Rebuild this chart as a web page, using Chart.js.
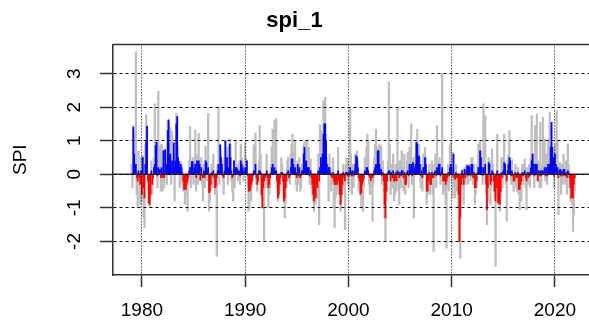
<!DOCTYPE html>
<html>
<head>
<meta charset="utf-8">
<title>spi_1</title>
<script src="https://cdn.jsdelivr.net/npm/chart.js@4.4.1/dist/chart.umd.min.js"></script>
<style>
    body { margin: 0; background: #fff; }
    canvas { display: block; }
</style>
</head>
<body>
<canvas id="spiChart" width="589" height="322"></canvas>
<script>
// Monthly series, Jan 1979 .. Dec 2021 (one row per year)
const startYear = 1979;

// gray spikes: SPI-1
const spiGray = [
    0.3, -0.4, 1.45, 1.2, 0.4, 3.65, -0.6, -1.0, 0.7, -0.3, -0.9, 0.5,
    -0.8, 0.55, -1.3, -1.6, 0.9, 1.78, 1.45, -0.5, -0.9, -1.0, -0.7, 0.4,
    -0.6, -0.3, 0.5, 2.1, 0.9, 1.0, -0.4, 2.47, 0.3, 0.85, -0.5, 0.9,
    -0.5, 0.7, -0.4, 0.75, 0.55, -0.3, 1.6, 1.55, 0.9, 1.4, -0.3, 1.28,
    0.4, 0.95, -0.8, 0.5, 1.82, 1.7, 0.8, 0.35, -0.4, 0.38, 0.3, -0.3,
    -0.5, -0.45, -0.9, -0.6, -0.45, -1.1, -0.3, 0.4, 1.42, -0.4, 0.38, 0.5,
    -0.3, 0.4, 1.32, -0.5, 0.6, -0.3, 1.22, 0.4, -0.2, 0.5, -0.3, -0.8,
    0.3, -0.4, 0.85, 0.4, -0.2, 1.82, -1.1, -0.8, -0.5, 0.3, -0.4, 0.6,
    -0.3, -0.6, -0.4, -2.45, 0.3, 2.0, -0.3, 0.88, 0.7, 0.4, -0.2, -0.6,
    0.5, 1.0, 0.4, 0.8, -0.3, 0.6, 1.05, 0.9, -0.2, -0.5, -0.8, 0.4,
    -0.4, 1.03, 0.3, 0.2, -0.2, 0.4, -0.3, 0.9, 0.5, 0.4, -0.2, 0.3,
    0.97, 0.5, 0.4, -0.3, -1.1, -1.0, -0.6, -0.8, -0.4, -0.2, 0.88, 0.3,
    1.23, -0.3, -0.5, -0.3, 0.4, 1.45, 0.6, -0.7, -1.0, -0.5, -2.0, -0.4,
    -0.3, 0.6, -0.4, -1.0, -0.6, -0.4, 0.3, 0.8, 1.35, 0.5, 1.6, 0.4,
    1.65, -0.4, -0.8, -0.7, -0.5, -0.3, 0.5, 0.3, -0.5, -0.8, -1.3, -0.9,
    -0.4, 0.4, 0.5, -0.2, -0.3, 0.6, 0.9, 1.2, 0.7, 0.3, 1.0, -0.3,
    -0.5, 0.4, -0.3, 0.5, -0.5, -0.4, 0.3, 0.2, 0.9, 1.0, 0.6, 0.8,
    1.03, 0.3, 0.8, -0.3, 0.45, -0.4, -0.6, -0.8, -1.1, -0.6, -0.9, -0.5,
    -0.7, 0.6, -1.5, 1.48, 1.3, 0.4, 1.0, 2.2, 1.6, 2.3, 1.2, 0.5,
    0.3, -0.8, 0.6, 0.2, -0.5, -0.3, 0.5, -1.0, -1.6, -0.7, -0.4, -0.6,
    0.8, -0.4, -0.9, -1.1, -0.8, -0.6, 0.3, -0.4, -1.65, 0.3, 0.5, -0.3,
    0.4, -0.5, 1.95, 0.6, -0.6, 0.3, -0.4, 0.2, 0.6, 0.55, 0.7, 0.4,
    -0.5, -0.3, -0.6, -1.0, -0.5, -1.1, -0.4, 0.5, 0.3, 0.8, 1.2, 1.0,
    -0.3, -0.6, -0.2, -0.4, -1.4, -0.3, 0.5, 0.9, 1.35, 0.4, 0.8, 0.7,
    0.9, 0.3, 0.85, -0.3, 0.4, -0.5, -1.3, -2.0, -0.8, -0.5, 0.4, 2.75,
    0.9, -0.6, 0.3, -0.4, 0.6, -0.8, -0.6, 0.3, -0.5, 2.0, 0.4, -0.9,
    0.4, -0.4, 0.7, 0.2, -0.5, 0.6, -0.6, -0.3, 0.4, 0.65, -0.4, 0.8,
    0.3, 1.5, -0.3, 0.5, -1.3, 0.4, 0.6, 1.0, 1.35, 0.7, 0.9, 0.5,
    -0.4, 0.3, -0.5, 0.6, 0.3, 0.8, 0.5, -0.9, -0.6, -0.5, 0.3, -0.6,
    -0.3, 0.4, -0.6, -2.3, 0.3, 0.6, -0.4, 1.45, 0.3, 0.4, 0.5, -0.3,
    0.3, 3.0, -0.6, -0.3, -0.5, -0.9, -2.2, -0.4, 0.3, -0.5, 0.85, 0.95,
    0.4, -0.7, 0.65, -0.4, -0.7, 0.3, -0.5, -0.3, -1.0, -2.0, -2.5, -0.8,
    0.15, -0.4, -0.9, 0.2, -0.3, 0.3, 0.25, -0.3, 0.3, 0.2, -0.2, 0.5,
    0.5, -0.3, 0.3, -0.9, -0.6, -0.4, 0.3, 0.9, 0.4, 1.0, 0.7, 0.5,
    -0.3, 2.1, 0.4, 1.75, -0.6, -1.5, -0.8, 0.5, 0.4, -0.9, -0.4, 0.75,
    0.3, -0.5, -0.7, -2.75, -0.6, 1.2, -0.9, -0.5, -1.1, -0.7, 0.5, -0.4,
    0.5, 1.2, 0.35, -0.3, -1.4, 0.4, 0.6, 1.3, 0.5, -0.3, 0.45, -0.3,
    -0.5, -0.2, 0.3, -0.4, -0.5, 0.2, -0.6, -1.05, -0.5, -0.8, 0.3, -0.3,
    0.3, 0.45, -0.4, -1.05, 0.2, -0.3, 0.3, -0.4, 0.5, 1.75, 0.6, 0.6,
    -0.4, 1.45, 0.5, 1.8, -0.2, 0.4, -0.4, 1.55, -0.4, 0.3, 1.7, 0.5,
    1.05, -0.2, 0.6, -0.3, 1.05, 0.4, 1.85, 1.0, 1.55, 0.8, 0.5, -0.4,
    0.9, 0.4, 1.9, 1.0, -1.2, 0.3, 0.35, -0.6, 0.3, -0.3, 0.6, 0.15,
    -0.3, 0.4, -0.6, 0.9, 0.3, -0.4, -0.8, -0.7, -0.9, -1.7, -1.2, -0.5
];

// blue / red bars
const spiColor = [
    0, 0, 1.4, 0.6, 0.2, 0.3, -0.1, -0.2, 0.1, -0.1, -0.3, 0.1,
    -0.6, 0.5, -0.4, -0.7, 0.3, 1.0, 1.43, -0.2, -0.85, -0.9, -0.6, 0.1,
    -0.3, -0.1, 0.2, 0.3, 0.85, 0.95, -0.05, 0.2, 0.1, 0.15, -0.1, 0.2,
    -0.1, 0.7, -0.1, 0.73, 0.3, 0.1, 1.3, 1.62, 0.5, 0.6, 0.1, 0.4,
    0.2, 0.93, 0.2, 0.4, 1.5, 1.72, 0.5, 0.38, 0.1, 0.3, 0.2, 0.05,
    -0.2, -0.45, -0.4, -0.45, -0.3, -0.2, -0.1, 0.1, 0.2, 0.1, 0.38, 0.38,
    0.05, 0.2, 0.3, -0.1, 0.4, 0.1, 0.4, 0.3, -0.17, 0.2, -0.05, -0.1,
    0.1, -0.1, 0.4, 0.35, 0.1, 0.2, -0.55, -0.5, -0.3, 0.05, -0.05, 0.1,
    -0.1, -0.4, -0.35, -0.1, 0.1, 0.3, 0.1, 0.88, 0.5, 0.3, -0.05, -0.1,
    0.1, 1.0, 0.2, 0.5, 0.05, 0.2, 0.9, 0.5, 0.1, -0.1, -0.05, 0.4,
    0.1, 0.2, 0.2, 0.15, 0.05, 0.1, -0.05, 0.4, 0.3, 0.2, 0.05, 0.1,
    0.2, 0.1, 0.4, -0.05, -0.5, -0.5, -0.45, -0.3, -0.2, -0.05, 0.1, 0.05,
    0.3, -0.1, -0.3, -0.2, 0.1, 0.1, 0.05, -0.6, -1.0, -0.4, -0.2, -0.1,
    -0.05, 0.1, -0.1, -0.4, -0.3, -0.1, 0.05, 0.2, 0.3, 0.1, 0.2, 0.1,
    0.1, -0.2, -0.7, -0.6, -0.3, -0.1, 0.05, 0.05, -0.2, -0.8, -0.7, -0.4,
    -0.2, 0.05, 0.1, -0.1, -0.05, 0.2, 0.45, 0.45, 0.3, 0.1, 0.2, 0.05,
    -0.1, 0.3, -0.05, 0.2, -0.1, -0.05, 0.1, 0.1, 0.6, 0.8, 0.3, 0.4,
    0.2, 0.2, 0.2, -0.05, 0.1, -0.1, -0.3, -0.6, -0.8, -0.5, -0.7, -0.3,
    -0.4, 0.1, -0.2, 0.2, 0.5, 0.3, 0.6, 1.2, 1.5, 1.5, 1.0, 0.3,
    0.1, 0.2, 0.2, 0.05, -0.05, -0.1, 0.05, -0.2, -0.3, -0.3, -0.2, -0.3,
    0.1, -0.2, -0.6, -0.9, -0.6, -0.3, 0.05, -0.1, -0.2, 0.05, 0.05, -0.05,
    0.05, -0.05, 0.2, 0.1, -0.05, 0.1, -0.05, 0.1, 0.3, 0.55, 0.5, 0.2,
    -0.1, -0.2, -0.6, -0.55, -0.3, -0.2, -0.1, 0.1, 0.05, 0.2, 0.2, 0.1,
    -0.05, -0.1, -0.2, -0.1, -0.1, -0.05, 0.1, 0.2, 0.3, 0.2, 0.7, 0.7,
    0.3, 0.1, 0.15, -0.05, 0.05, -0.2, -0.9, -1.3, -0.5, -0.2, 0.05, 0.1,
    0.1, -0.2, 0.05, -0.1, 0.1, -0.2, -0.2, 0.05, -0.2, 0.1, 0.05, -0.1,
    0.05, -0.05, 0.1, 0.1, -0.1, 0.05, -0.3, -0.3, 0.05, 0.1, -0.05, 0.3,
    0.1, 0.3, -0.05, 0.35, 0.1, 0.2, 0.3, 0.95, 0.9, 0.5, 0.55, 0.3,
    -0.05, 0.1, -0.1, 0.2, 0.2, 0.5, 0.3, -0.5, -0.5, -0.2, 0.05, -0.3,
    -0.3, 0.05, -0.1, -0.1, 0.05, 0.1, -0.05, 0.2, 0.1, 0.3, 0.3, -0.05,
    0.05, 0.2, -0.2, -0.2, -0.2, -0.3, -0.2, -0.1, 0.05, -0.05, 0.2, 0.3,
    0.2, -0.05, 0.6, -0.1, -0.15, 0.05, -0.1, -0.1, -0.6, -2.0, -1.3, -0.3,
    0.1, -0.1, -0.3, 0.15, -0.1, 0.1, 0.25, -0.05, 0.25, 0.2, -0.05, 0.3,
    0.3, -0.1, 0.05, -0.4, -0.4, -0.2, 0.05, 0.2, 0.2, 0.7, 0.5, 0.2,
    -0.05, 0.2, 0.1, 0.3, -0.3, -1.05, -0.4, 0.35, 0.3, -0.3, -0.2, 0.1,
    0.05, -0.2, -0.5, -0.8, -0.4, 0.1, -0.85, -0.3, -0.9, -0.5, 0.05, -0.1,
    0.1, 0.35, 0.3, -0.05, -0.2, 0.1, 0.3, 0.5, 0.4, -0.05, 0.1, -0.05,
    -0.2, -0.2, 0.05, -0.1, -0.1, 0.05, -0.45, -0.45, -0.3, -0.2, 0.05, -0.05,
    0.05, 0.1, -0.1, -0.2, 0.05, -0.1, 0.05, -0.05, 0.2, 0.4, 0.6, 0.3,
    -0.05, 0.3, 0.2, 0.3, -0.2, 0.1, -0.05, 0.1, -0.05, 0.1, 0.1, 0.05,
    0.2, -0.05, 0.2, -0.05, 0.3, 0.2, 0.3, 0.8, 1.55, 0.8, 0.5, -0.05,
    0.6, 0.3, 0.2, 0.2, -0.1, 0.1, 0.15, -0.05, 0.1, -0.05, 0.15, 0.15,
    -0.05, 0.05, -0.1, 0.1, 0.05, -0.1, -0.4, -0.7, -0.65, -0.7, -0.3, -0.1
];

const xTickValues = [1980, 1990, 2000, 2010, 2020];
const yTickValues = [-2, -1, 0, 1, 2, 3];
const xRange = [1977.2, 2023.3];
const yRange = [-3.0, 3.87];

const FONT = '"Liberation Sans", Arial, Helvetica, sans-serif';

// turn a monthly array into {x: decimal year, y} points
function toPoints(values) {
    return values.map((v, i) => ({ x: startYear + i / 12, y: v }));
}

// top side of the R box() frame
const framePlugin = {
    id: 'frame',
    afterDraw(chart) {
        const { ctx, chartArea } = chart;
        ctx.save();
        ctx.strokeStyle = '#333';
        ctx.lineWidth = 1.5;
        ctx.beginPath();
        ctx.moveTo(chartArea.left, chartArea.top);
        ctx.lineTo(chartArea.right, chartArea.top);
        ctx.stroke();
        ctx.restore();
    }
};

new Chart(document.getElementById('spiChart'), {
    type: 'bar',
    data: {
        datasets: [
            {
                type: 'line',
                label: 'zero',
                data: [{ x: xRange[0], y: 0 }, { x: xRange[1], y: 0 }],
                borderColor: '#333',
                borderWidth: 1.6,
                pointRadius: 0,
                order: 0
            },
            {
                label: 'colour',
                data: toPoints(spiColor),
                backgroundColor: c => (c.raw && c.raw.y < 0) ? '#ff0000' : '#0000ff',
                barThickness: 1.1,
                grouped: false,
                order: 1
            },
            {
                label: 'spi_1',
                data: toPoints(spiGray),
                backgroundColor: '#bebebe',
                barThickness: 1.6,
                grouped: false,
                order: 2
            }
        ]
    },
    options: {
        responsive: false,
        animation: false,
        layout: { padding: 0 },
        plugins: {
            legend: { display: false },
            tooltip: { enabled: false },
            title: {
                display: true,
                text: 'spi_1',
                color: '#000',
                font: { family: FONT, size: 22, weight: 'bold' },
                padding: { top: 8, bottom: 10 }
            }
        },
        scales: {
            x: {
                type: 'linear',
                min: xRange[0],
                max: xRange[1],
                offset: false,
                afterBuildTicks: s => { s.ticks = xTickValues.map(v => ({ value: v })); },
                ticks: {
                    color: '#000',
                    font: { family: FONT, size: 19 },
                    padding: 12,
                    maxRotation: 0,
                    callback: v => String(v)
                },
                grid: {
                    offset: false,
                    color: '#000',
                    lineWidth: 1,
                    z: 1,
                    tickLength: 12,
                    tickColor: '#333',
                    tickWidth: 1.5,
                    tickBorderDash: []
                },
                border: { display: true, color: '#333', width: 1.5, dash: [1, 2], z: 2 },
                afterFit: s => { s.height = 47; }
            },
            y: {
                min: yRange[0],
                max: yRange[1],
                afterBuildTicks: s => { s.ticks = yTickValues.map(v => ({ value: v })); },
                ticks: {
                    color: '#000',
                    font: { family: FONT, size: 19 },
                    minRotation: 90,
                    maxRotation: 90,
                    crossAlign: 'center',
                    padding: 17,
                    callback: v => String(v)
                },
                grid: {
                    offset: false,
                    color: '#000',
                    lineWidth: 1,
                    z: 1,
                    tickLength: 13,
                    tickColor: '#333',
                    tickWidth: 1.5,
                    tickBorderDash: []
                },
                border: { display: true, color: '#333', width: 1.5, dash: [3, 3], z: 2 },
                title: {
                    display: true,
                    text: 'SPI',
                    color: '#000',
                    font: { family: FONT, size: 19 },
                    padding: { top: 9, bottom: 0 }
                },
                afterFit: s => { s.width = 113; }
            }
        }
    },
    plugins: [framePlugin]
});
</script>
</body>
</html>
